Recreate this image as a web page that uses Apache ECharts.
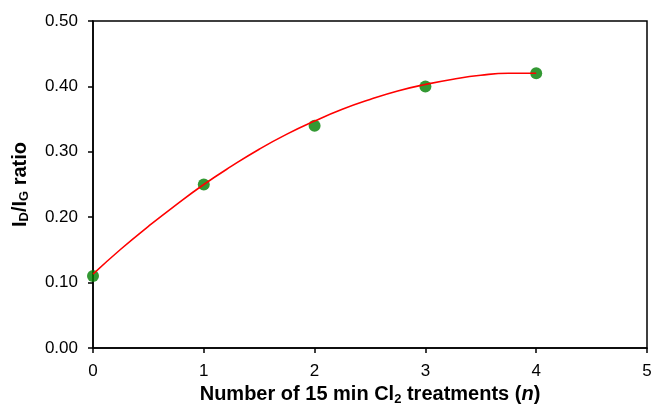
<!DOCTYPE html>
<html>
<head>
<meta charset="utf-8">
<script src="https://cdn.jsdelivr.net/npm/echarts@6/dist/echarts.min.js"></script>
<style>
  html, body { margin: 0; padding: 0; background: #fff; }
  #chart { width: 652px; height: 405px; }
</style>
</head>
<body>
<div id="chart"></div>
<script>
// Measured I_D/I_G ratio after n chlorination steps
const treatments = [0, 1, 2, 3, 4];
const ratio = [0.11, 0.25, 0.34, 0.40, 0.42];

// Fitted trend curve (x, y)
const fitX = [0, 0.25, 0.5, 0.75, 1, 1.25, 1.5, 1.75, 2, 2.25, 2.5, 2.75, 3, 3.25, 3.5, 3.75, 4];
const fitY = [0.113, 0.151, 0.186, 0.219, 0.250, 0.278, 0.304, 0.327, 0.347, 0.365, 0.380, 0.393, 0.403, 0.411, 0.417, 0.420, 0.420];

// Axis ticks
const xTicks = [0, 1, 2, 3, 4, 5];
const yTicks = [0, 0.1, 0.2, 0.3, 0.4, 0.5];

const font = 'Liberation Sans, Arial, sans-serif';
const chart = echarts.init(document.getElementById('chart'), null, { renderer: 'canvas' });

chart.setOption({
  animation: false,
  backgroundColor: '#fff',
  grid: {
    left: 93, right: 5, top: 21, bottom: 57,
    outerBoundsMode: 'none',
    containLabel: false,
    show: true, borderColor: '#000', borderWidth: 1.5, backgroundColor: 'transparent'
  },
  xAxis: {
    type: 'value',
    min: xTicks[0], max: xTicks[xTicks.length - 1], interval: 1,
    axisLine: { show: true, lineStyle: { color: '#000', width: 1.5 } },
    axisTick: { show: true, inside: false, length: 5, lineStyle: { color: '#000', width: 1.5 } },
    splitLine: { show: false },
    axisLabel: { color: '#000', fontFamily: font, fontSize: 17, margin: 15 },
    name: '{b|Number of 15 min Cl}{s|2}{b| treatments (}{i|n}{b|)}',
    nameLocation: 'middle',
    nameGap: 32,
    nameTextStyle: {
      rich: {
        b: { fontFamily: font, fontSize: 20, fontWeight: 'bold', color: '#000' },
        i: { fontFamily: font, fontSize: 20, fontWeight: 'bold', fontStyle: 'italic', color: '#000' },
        s: { fontFamily: font, fontSize: 13, fontWeight: 'bold', color: '#000', padding: [9, 0, 0, 0] }
      }
    }
  },
  yAxis: {
    type: 'value',
    min: yTicks[0], max: yTicks[yTicks.length - 1], interval: 0.1,
    axisLine: { show: true, lineStyle: { color: '#000', width: 1.5 } },
    axisTick: { show: true, inside: false, length: 5, lineStyle: { color: '#000', width: 1.5 } },
    splitLine: { show: false },
    axisLabel: {
      color: '#000', fontFamily: font, fontSize: 17, margin: 15,
      formatter: v => v.toFixed(2)
    },
    name: '{b|I}{s|D}{b|/I}{s|G}{b| ratio}',
    nameLocation: 'middle',
    nameRotate: 90,
    nameGap: 62,
    nameTextStyle: {
      rich: {
        b: { fontFamily: font, fontSize: 20, fontWeight: 'bold', color: '#000' },
        s: { fontFamily: font, fontSize: 13, fontWeight: 'bold', color: '#000', padding: [9, 0, 0, 0] }
      }
    }
  },
  series: [
    {
      type: 'scatter',
      data: treatments.map((x, i) => [x, ratio[i]]),
      symbol: 'circle',
      symbolSize: 12,
      itemStyle: { color: '#007f00' },
      z: 2
    },
    {
      type: 'line',
      data: fitX.map((x, i) => [x, fitY[i]]),
      smooth: true,
      showSymbol: false,
      lineStyle: { color: '#ff0000', width: 1.6 },
      z: 3
    }
  ]
});
</script>
</body>
</html>
